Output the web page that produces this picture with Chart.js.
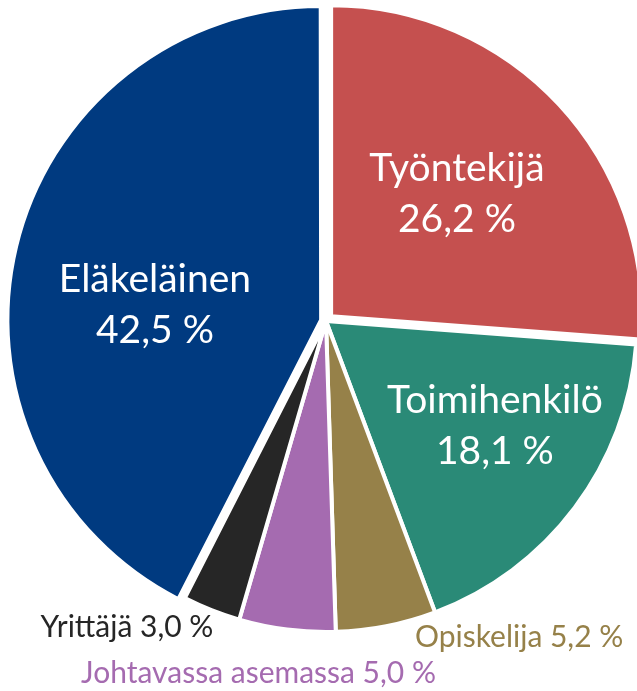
<!DOCTYPE html>
<html lang="fi">
<head>
<meta charset="utf-8">
<title>Ammattiasema</title>
<script src="https://cdn.jsdelivr.net/npm/chart.js@4"></script>
<style>
  html, body { margin: 0; padding: 0; background: #ffffff; }
  #wrap { position: relative; width: 637px; height: 691px; }
</style>
</head>
<body>
<div id="wrap"><canvas id="pieChart"></canvas></div>
<script>
'use strict';

// ── DATA ──
const labels = ['Työntekijä', 'Toimihenkilö', 'Opiskelija', 'Johtavassa asemassa', 'Yrittäjä', 'Eläkeläinen'];
const values = [26.2, 18.1, 5.2, 5.0, 3.0, 42.5];

// ── STYLE ──
const colors  = ['#C5504F', '#2A8A77', '#968149', '#A56BB0', '#262626', '#003A80'];
const explode = [28, 0, 0, 0, 0, 20];              // chart.js offset (px * 4)
const inside  = [true, true, false, false, false, true];
const textCol = ['#ffffff', '#ffffff', '#968149', '#A56BB0', '#262626', '#ffffff'];
// label anchor, as a fraction of the radius from the pie centre
const labelX  = [0.421, 0.543, 0.621, -0.217, -0.640, -0.550];
const labelY  = [-0.370, 0.376, 1.048, 1.164, 1.016, -0.013];

const FONT = "Lato, 'Open Sans', sans-serif";
const fmt = v => v.toFixed(1).replace('.', ',') + ' %';

// ── LABEL PLUGIN ──
const sliceLabels = {
  id: 'sliceLabels',
  afterDatasetsDraw(chart) {
    const ctx = chart.ctx;
    const arcs = chart.getDatasetMeta(0).data;
    ctx.save();
    ctx.textAlign = 'center';
    ctx.textBaseline = 'alphabetic';
    arcs.forEach((arc, i) => {
      const r = arc.outerRadius;
      const x = arc.x + labelX[i] * r;
      const y = arc.y + labelY[i] * r;
      ctx.fillStyle = textCol[i];
      if (inside[i]) {
        ctx.font = `39px ${FONT}`;
        ctx.fillText(labels[i], x, y - 25);
        ctx.fillText(fmt(values[i]), x, y + 26);
      } else {
        ctx.font = `30px ${FONT}`;
        ctx.fillText(`${labels[i]} ${fmt(values[i])}`, x, y);
      }
    });
    ctx.restore();
  }
};

// ── CHART ──
new Chart(document.getElementById('pieChart'), {
  type: 'pie',
  data: {
    labels,
    datasets: [{
      data: values,
      backgroundColor: colors,
      borderColor: '#ffffff',
      borderWidth: 4,
      offset: explode,
      radius: 311,
      clip: false
    }]
  },
  options: {
    responsive: true,
    maintainAspectRatio: false,
    animation: false,
    layout: { padding: { left: 15, right: 0, top: 0, bottom: 49 } },
    plugins: {
      legend: { display: false },
      tooltip: { enabled: false }
    }
  },
  plugins: [sliceLabels]
});
</script>
</body>
</html>
